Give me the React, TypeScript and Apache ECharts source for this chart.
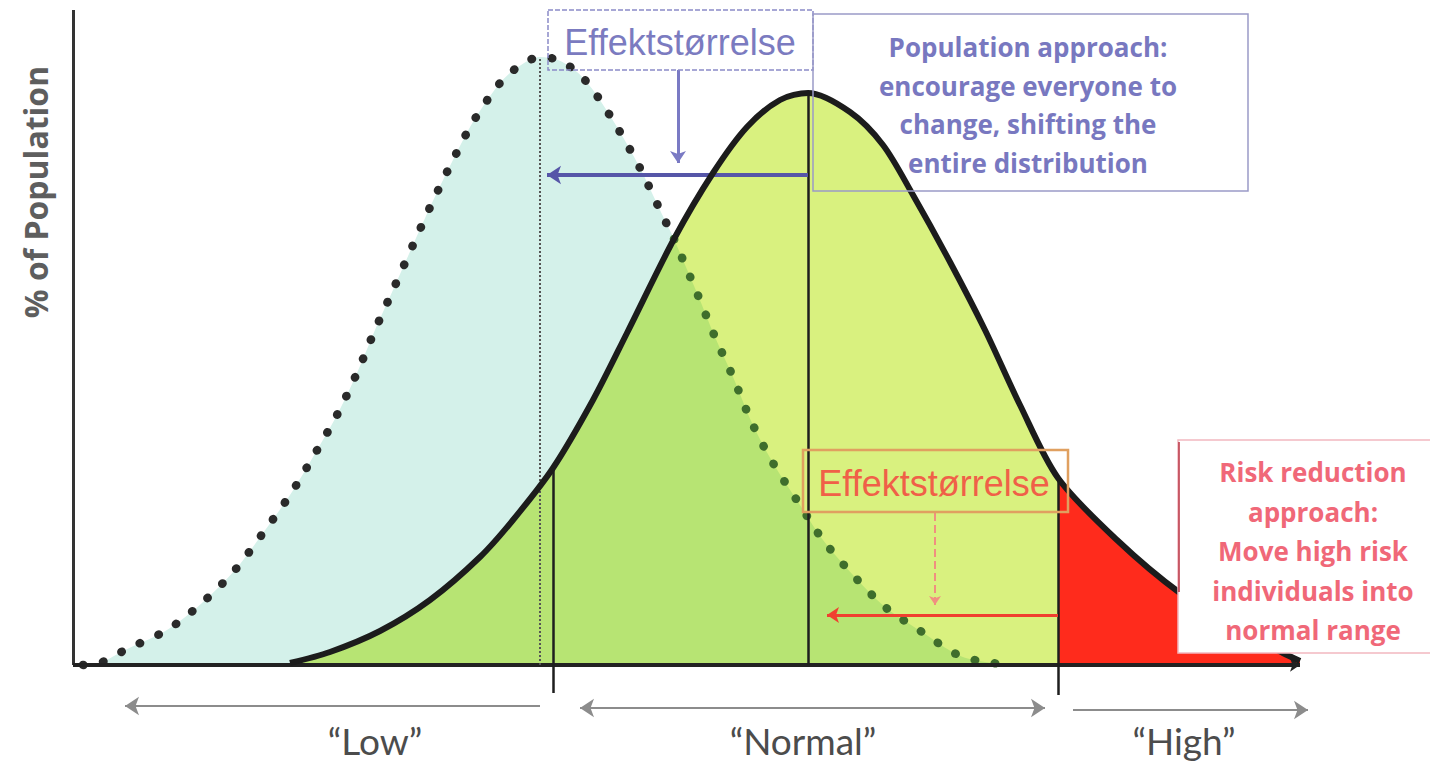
import React, { useEffect, useRef } from "react";
import * as echarts from "echarts";

// Main (current) distribution: [risk level, share]
const mainCurve: [number, number][] = [
  [217, 2], [257, 13], [307, 34], [357, 65], [407, 108], [440, 145], [480, 197],
  [520, 265], [554, 332], [601, 426], [640, 492], [674, 538], [707, 565], [735, 572],
  [777, 553], [810, 520], [840, 470], [877, 403], [912, 335], [947, 260], [985, 187],
  [1044, 125], [1107, 72], [1167, 35], [1210, 12], [1227, 4],
];

// Shifted (target) distribution, dotted curve
const shiftedCurve: [number, number][] = [
  [10, 0], [27, 2], [52, 15], [94, 35], [129, 62], [162, 95], [190, 132], [217, 170],
  [240, 208], [264, 250], [284, 292], [302, 335], [320, 375], [340, 420], [359, 462],
  [379, 503], [400, 543], [427, 582], [445, 598], [467, 608], [485, 605], [504, 593],
  [520, 575], [544, 538], [567, 497], [587, 455], [601, 426], [624, 372], [642, 328],
  [660, 288], [679, 242], [700, 202], [727, 160], [750, 125], [780, 90], [812, 58],
  [849, 33], [885, 10], [912, 3], [940, 0],
];

const crossingX = 601;
const shiftedMean = 467;
const lowCut = 480;
const normalMean = 735;
const highCut = 985;

const rangeLabels = ["\u201CLow\u201D", "\u201CNormal\u201D", "\u201CHigh\u201D"];
const effectLabel = "Effektst\u00F8rrelse";
const populationLines = [
  "Population approach:",
  "encourage everyone to",
  "change, shifting the",
  "entire distribution",
];
const riskLines = [
  "Risk reduction",
  "approach:",
  "Move high risk",
  "individuals into",
  "normal range",
];
const yAxisTitle = "% of Population";

const heightAt = (curve: [number, number][], x: number) =>
  (curve.find((p) => p[0] === x) || [x, 0])[1];

function seg(
  a: [number, number],
  b: [number, number],
  lineStyle: any,
  endSym = "none",
  startSym = "none",
  size = 14
) {
  return [
    { coord: a, symbol: startSym, symbolSize: size, lineStyle },
    { coord: b, symbol: endSym, symbolSize: size, lineStyle },
  ];
}

export default function App() {
  const ref = useRef<HTMLDivElement>(null);

  useEffect(() => {
    if (!ref.current) return;
    const chart = echarts.init(ref.current, undefined, { renderer: "svg" });

    const overlapLeft = mainCurve.filter((p) => p[0] <= crossingX);
    const overlapRight = shiftedCurve.filter((p) => p[0] >= crossingX);
    const redTail = mainCurve.filter((p) => p[0] >= highCut);
    const dotsLeft = shiftedCurve.filter((p) => p[0] <= crossingX);
    const dotsRight = shiftedCurve.filter((p) => p[0] >= crossingX);

    const black = { color: "#1e1e1e", width: 2.5, type: "solid" };
    const gray = { color: "#8c8c8c", width: 2, type: "solid" };
    const blue = { color: "#7a7ac4", width: 3, type: "solid" };
    const blueDark = { color: "#5656a8", width: 4, type: "solid" };
    const red = { color: "#f04030", width: 3, type: "solid" };
    const redThin = { color: "#f09080", width: 2, type: "dashed" };

    const markLines = [
      seg([0, 0], [0, 655], { color: "#333", width: 3, type: "solid" }),
      seg([0, 0], [1227, 0], { color: "#222", width: 4, type: "solid" }, "arrow", "none", 10),
      seg([shiftedMean, 0], [shiftedMean, heightAt(shiftedCurve, shiftedMean)], {
        color: "#555",
        width: 2,
        type: "dotted",
      }),
      seg([lowCut, -28], [lowCut, heightAt(mainCurve, lowCut)], black),
      seg([normalMean, 0], [normalMean, heightAt(mainCurve, normalMean)], black),
      seg([highCut, -30], [highCut, heightAt(mainCurve, highCut)], black),
      seg([467, -41], [52, -41], gray, "arrow"),
      seg([507, -43], [972, -43], gray, "arrow", "arrow"),
      seg([1000, -45], [1235, -45], gray, "arrow"),
      seg([605, 595], [605, 502], blue, "arrow", "none", 12),
      seg([normalMean, 490], [474, 490], blueDark, "arrow"),
      seg([862, 152], [862, 60], redThin, "arrow", "none", 9),
      seg([highCut, 50], [754, 50], red, "arrow", "none", 12),
    ];

    const areaSeries = (data: [number, number][], color: string, z: number) => ({
      type: "line",
      data,
      smooth: 0.3,
      symbol: "none",
      silent: true,
      z,
      lineStyle: { width: 0, opacity: 0 },
      areaStyle: { color, opacity: 1 },
    });

    const dotSeries = (data: [number, number][], color: string) => ({
      type: "line",
      data,
      smooth: 0.3,
      symbol: "none",
      silent: true,
      z: 4,
      lineStyle: { color, width: 8.5, type: [0.5, 20], cap: "round" },
    });

    const graphic: any[] = [];
    graphic.push({
      type: "text",
      x: 35,
      y: 192,
      rotation: Math.PI / 2,
      z: 100,
      style: {
        text: yAxisTitle,
        fontSize: 32,
        fontWeight: "bold",
        fontFamily: "Open Sans",
        fill: "#5e5e5e",
        align: "center",
        verticalAlign: "middle",
      },
    });
    // blue effect box
    graphic.push({
      type: "rect",
      z: 100,
      shape: { x: 548, y: 10, width: 265, height: 60 },
      style: { fill: "none", stroke: "#8a8ac8", lineWidth: 1.5, lineDash: [5, 2] },
    });
    graphic.push({
      type: "text",
      x: 680,
      y: 42,
      z: 100,
      style: {
        text: effectLabel,
        fontSize: 36,
        fontFamily: "Liberation Sans",
        fill: "#7b7bc0",
        align: "center",
        verticalAlign: "middle",
      },
    });
    // population approach box
    graphic.push({
      type: "rect",
      z: 100,
      shape: { x: 813, y: 14, width: 435, height: 177 },
      style: { fill: "none", stroke: "#9a9ac8", lineWidth: 1.5 },
    });
    populationLines.forEach((t, i) =>
      graphic.push({
        type: "text",
        x: 1028,
        y: 47 + i * 38.5,
        z: 100,
        style: {
          text: t,
          fontSize: 26,
          fontWeight: "bold",
          fontFamily: "Open Sans",
          fill: "#7878c0",
          align: "center",
          verticalAlign: "middle",
        },
      })
    );
    // red effect box
    graphic.push({
      type: "rect",
      z: 100,
      shape: { x: 803, y: 450, width: 265, height: 62 },
      style: { fill: "none", stroke: "#e0a060", lineWidth: 2.5 },
    });
    graphic.push({
      type: "text",
      x: 934,
      y: 483,
      z: 100,
      style: {
        text: effectLabel,
        fontSize: 36,
        fontFamily: "Liberation Sans",
        fill: "#f06048",
        align: "center",
        verticalAlign: "middle",
      },
    });
    // risk reduction box
    graphic.push({
      type: "rect",
      z: 100,
      shape: { x: 1178, y: 440, width: 262, height: 213 },
      style: { fill: "#ffffff", stroke: "#f2b8c0", lineWidth: 1.5 },
    });
    graphic.push({
      type: "line",
      z: 101,
      shape: { x1: 1179, y1: 442, x2: 1179, y2: 592 },
      style: { stroke: "#b83040", lineWidth: 1.5 },
    });
    riskLines.forEach((t, i) =>
      graphic.push({
        type: "text",
        x: 1313,
        y: 472 + i * 39.5,
        z: 101,
        style: {
          text: t,
          fontSize: 26,
          fontWeight: "bold",
          fontFamily: "Open Sans",
          fill: "#f06878",
          align: "center",
          verticalAlign: "middle",
        },
      })
    );
    // range labels
    const labelX = [375, 803, 1184];
    rangeLabels.forEach((t, i) =>
      graphic.push({
        type: "text",
        x: labelX[i],
        y: 740,
        z: 100,
        style: {
          text: t,
          fontSize: 37,
          lineHeight: 38,
          fontFamily: "Lato",
          fill: "#4c4c4c",
          align: "center",
          verticalAlign: "middle",
        },
      })
    );

    chart.setOption({
      animation: false,
      grid: { left: 0, right: 0, top: 0, bottom: 0 },
      xAxis: { type: "value", min: -73, max: 1357, show: false },
      yAxis: { type: "value", min: -99, max: 665, show: false },
      series: [
        areaSeries(shiftedCurve, "#d4f1ea", 1),
        areaSeries(mainCurve, "#d9f17f", 2),
        areaSeries(overlapLeft, "#b7e473", 3),
        areaSeries(overlapRight, "#b7e473", 3),
        areaSeries(redTail, "#ff2b1c", 3),
        dotSeries(dotsLeft, "#2a2a2a"),
        dotSeries(dotsRight, "#3f6e2c"),
        {
          type: "line",
          data: mainCurve,
          smooth: 0.3,
          symbol: "none",
          silent: true,
          z: 5,
          lineStyle: { color: "#1c1c1c", width: 6 },
          markLine: {
            silent: true,
            animation: false,
            label: { show: false },
            emphasis: { disabled: true },
            data: markLines,
          },
        },
      ],
      graphic,
    });

    return () => chart.dispose();
  }, []);

  return (
    <div
      ref={ref}
      style={{ position: "fixed", left: 0, top: 0, width: 1430, height: 764, background: "#fff" }}
    />
  );
}
